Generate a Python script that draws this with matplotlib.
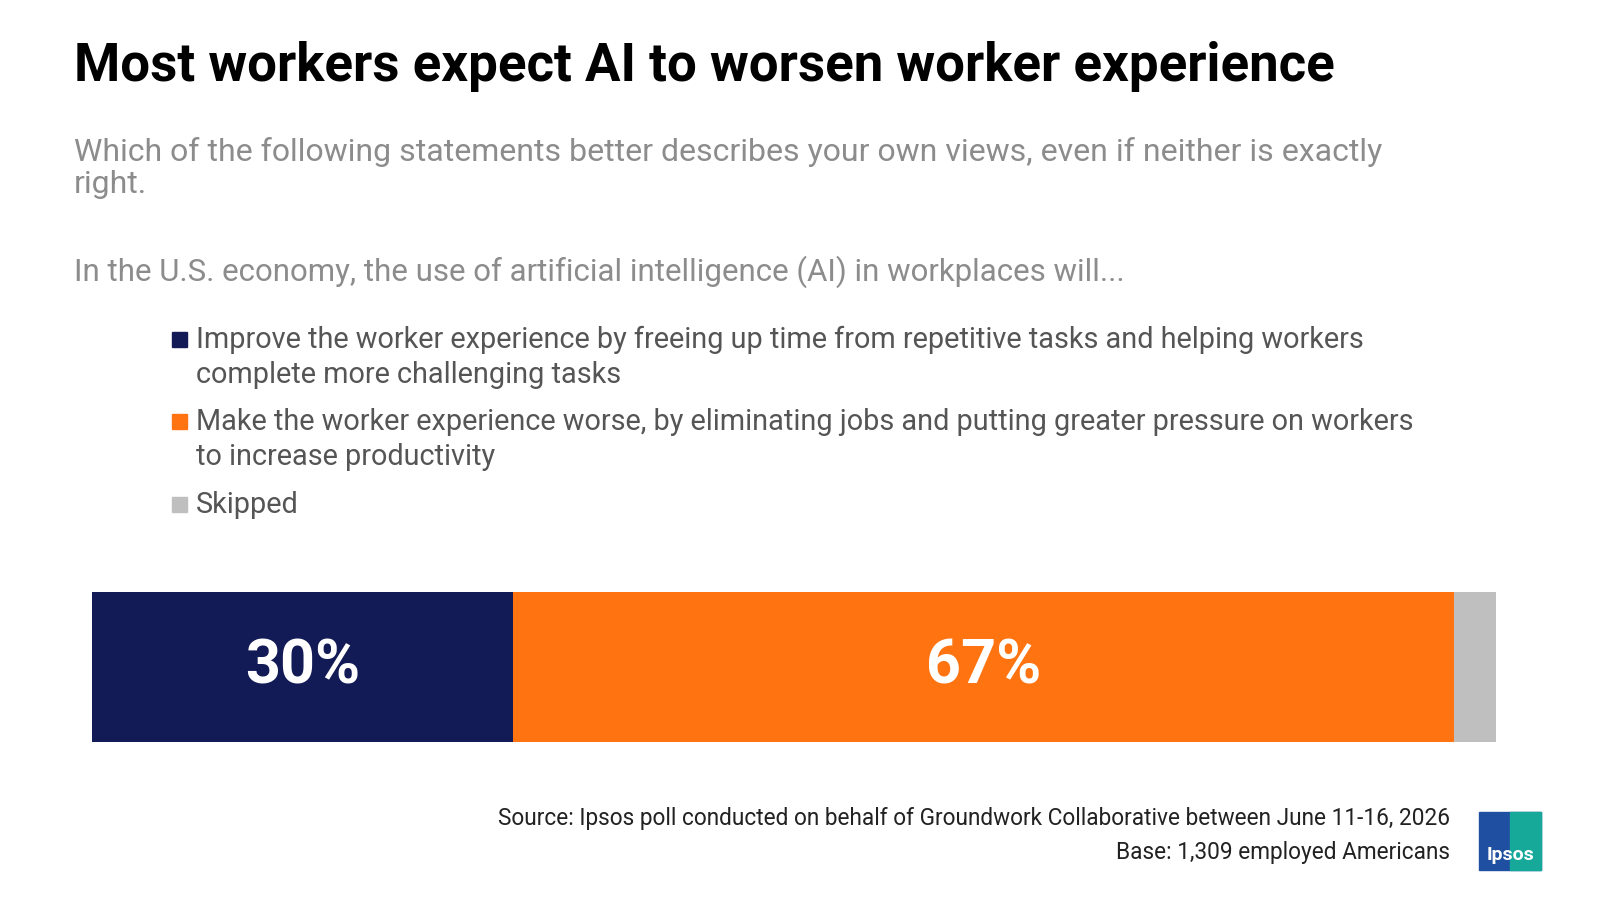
import matplotlib.pyplot as plt
from matplotlib.patches import Rectangle

plt.rcParams['font.family'] = ['Roboto', 'DejaVu Sans']

categories = ['Improve the worker experience by freeing up time from repetitive tasks and helping workers\ncomplete more challenging tasks',
              'Make the worker experience worse, by eliminating jobs and putting greater pressure on workers\nto increase productivity',
              'Skipped']
values = [30, 67, 3]
labels = ['30%', '67%', '']
colors = ['#131b57', '#ff7411', '#bfbfbf']

fig = plt.figure(figsize=(16, 9), dpi=100)
W, H = 1600, 900
def fx(px): return px / W
def fy(py): return 1 - py / H

fig.text(fx(74), fy(66), 'Most workers expect AI to worsen worker experience',
         fontsize=38, fontweight='bold', color='black', va='center')
fig.text(fx(74), fy(168), 'Which of the following statements better describes your own views, even if neither is exactly\nright.',
         fontsize=23, color='#8c8c8c', va='center', linespacing=1.1)
fig.text(fx(74), fy(272), 'In the U.S. economy, the use of artificial intelligence (AI) in workplaces will...',
         fontsize=22.5, color='#8c8c8c', va='center')

# legend
leg_y = [340, 422, 505]
for cat, col, y in zip(categories, colors, leg_y):
    fig.patches.append(Rectangle((fx(172), fy(y) - 0.008), 0.0095, 0.0165,
                                 transform=fig.transFigure, color=col))
    fig.text(fx(196), fy(y - 14), cat, fontsize=20.8, color='#555555', va='top', linespacing=1.3)

# stacked bar
ax = fig.add_axes([fx(92), fy(742), fx(1496) - fx(92), fy(592) - fy(742)])
left = 0
for v, c, lab in zip(values, colors, labels):
    ax.barh(0, v, left=left, color=c, height=1.0)
    if lab:
        ax.text(left + v / 2, 0, lab, ha='center', va='center', color='white',
                fontsize=44, fontweight='bold')
    left += v
ax.set_xlim(0, 100)
ax.set_ylim(-0.5, 0.5)
ax.axis('off')

fig.text(fx(1450), fy(818), 'Source: Ipsos poll conducted on behalf of Groundwork Collaborative between June 11-16, 2026',
         fontsize=16.3, color='#222222', ha='right', va='center')
fig.text(fx(1450), fy(852), 'Base: 1,309 employed Americans',
         fontsize=16.3, color='#222222', ha='right', va='center')

# logo
fig.patches.append(Rectangle((fx(1479), fy(870)), fx(62), 58 / H,
                             transform=fig.transFigure, color='#1f4fa0'))
fig.patches.append(Rectangle((fx(1510), fy(870)), fx(31), 58 / H,
                             transform=fig.transFigure, color='#16a99a'))
fig.text(fx(1510), fy(855), 'Ipsos', fontsize=14, fontweight='bold', color='white',
         ha='center', va='center')

fig.savefig('out.png', dpi=100, facecolor='white')
